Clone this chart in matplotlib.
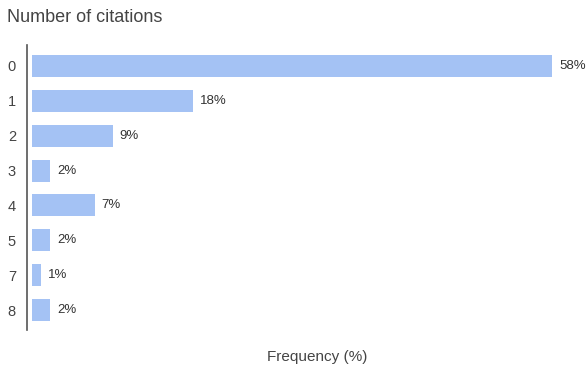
import matplotlib
matplotlib.use("Agg")
import matplotlib.pyplot as plt

plt.rcParams['font.family'] = ['Liberation Sans', 'DejaVu Sans']

categories = ["0", "1", "2", "3", "4", "5", "7", "8"]
values = [58, 18, 9, 2, 7, 2, 1, 2]
value_labels = ["58%", "18%", "9%", "2%", "7%", "2%", "1%", "2%"]

W, H = 587, 372
fig = plt.figure(figsize=(W / 100, H / 100), dpi=100)
ax = fig.add_axes([27 / W, (H - 330) / H, 560 / W, 285 / H])

bar_color = "#a4c2f4"
text_color = "#444444"

ypos = list(range(len(categories)))
ax.barh(ypos, values, height=0.63, color=bar_color, left=0)

for y, v, lab in zip(ypos, values, value_labels):
    ax.annotate(lab, (v, y), xytext=(5, 0), textcoords="offset points",
                va="center", ha="left", fontsize=9.5, color="#333333")

ax.set_xlim(-0.56, 61.9)
ax.set_ylim(7.57, -0.6)

ax.set_yticks(ypos)
ax.set_yticklabels(categories, fontsize=10.5, color=text_color)
ax.tick_params(axis="y", length=0, pad=8)
ax.set_xticks([])

for s in ["top", "right", "bottom"]:
    ax.spines[s].set_visible(False)
ax.spines["left"].set_color("#555555")
ax.spines["left"].set_linewidth(1.2)

fig.text(7 / W, 1 - 17 / H, "Number of citations", fontsize=13,
         color=text_color, ha="left", va="center")
fig.text(317 / W, 1 - 357 / H, "Frequency (%)", fontsize=11,
         color=text_color, ha="center", va="center")

fig.savefig("out.png", dpi=100, facecolor="white")
